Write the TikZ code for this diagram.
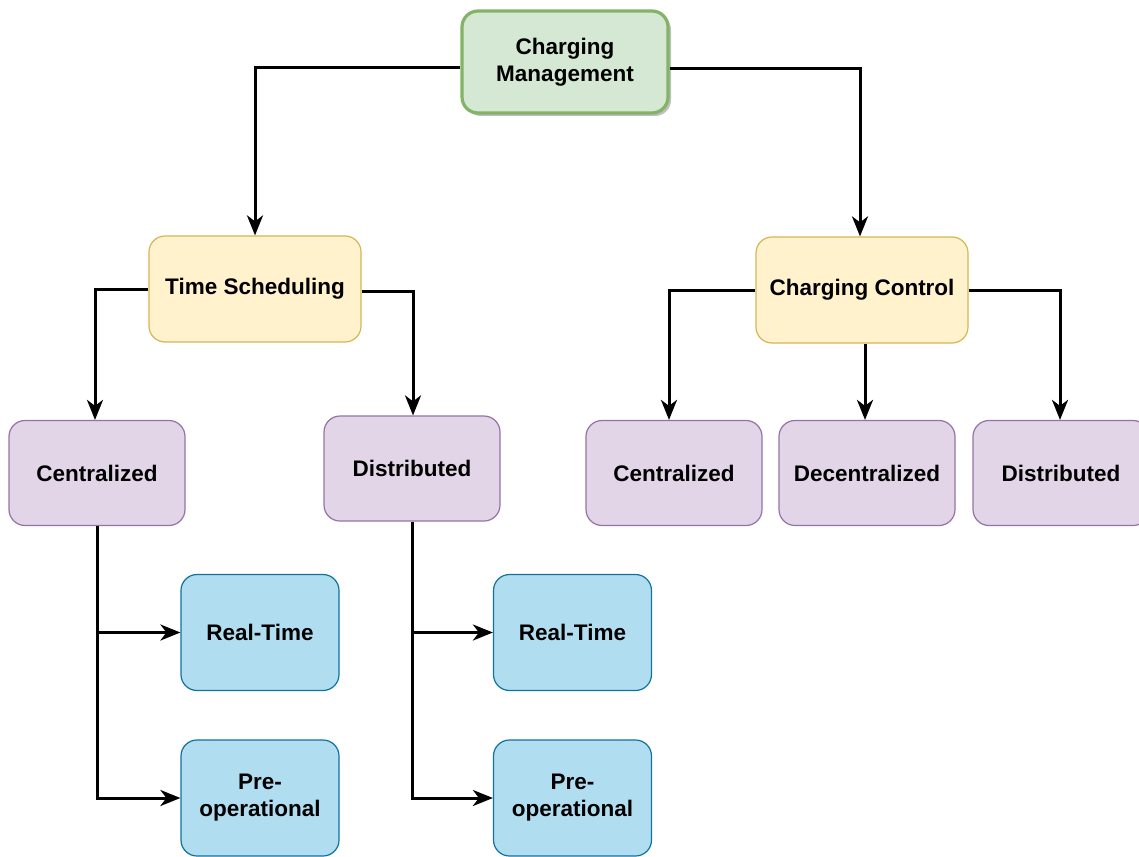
\documentclass[tikz,border=0pt]{standalone}
\usepackage{fontspec}
\setmainfont{Liberation Sans}
\usetikzlibrary{arrows.meta,shadows}
\definecolor{greenfill}{HTML}{D5E8D4}
\definecolor{greenline}{HTML}{82B366}
\definecolor{yellowfill}{HTML}{FFF2CC}
\definecolor{yellowline}{HTML}{D6B656}
\definecolor{purplefill}{HTML}{E1D5E7}
\definecolor{purpleline}{HTML}{9673A6}
\definecolor{bluefill}{HTML}{B1DDF0}
\definecolor{blueline}{HTML}{10739E}
\tikzset{
  box/.style={rectangle, rounded corners=16pt, line width=1.2pt, align=center,
    font=\fontsize{22.5}{27}\selectfont\bfseries, inner sep=0pt},
  rootbox/.style={box, fill=greenfill, draw=greenline, line width=3.2pt,
    minimum width=206pt, minimum height=102pt,
    drop shadow={shadow xshift=3pt, shadow yshift=-3pt, opacity=0.25, fill=black}},
  groupbox/.style={box, fill=yellowfill, draw=yellowline,
    minimum width=212pt, minimum height=106pt},
  kindbox/.style={box, fill=purplefill, draw=purpleline,
    minimum width=176pt, minimum height=105pt},
  modebox/.style={box, fill=bluefill, draw=blueline,
    minimum width=158pt, minimum height=116pt},
  arr/.style={line width=3pt, -{Stealth[length=20pt, width=16pt, inset=6pt]}}
}
\begin{document}
\begin{tikzpicture}[x=1pt, y=-1pt]
\useasboundingbox (0,0) rectangle (1139,856);
\fill[white] (0,0) rectangle (1139,856);

% top level
\node[rootbox] (cm) at (565,62) {Charging\\Management};

% second level
\node[groupbox] (ts) at (255,289) {Time Scheduling};
\node[groupbox] (cc) at (862,290) {Charging Control};

% third level
\node[kindbox] (cl) at (97,473) {Centralized};
\node[kindbox] (dl) at (412,468.5) {Distributed};
\node[kindbox] (cr) at (674,473) {Centralized};
\node[kindbox] (de) at (867,473) {Decentralized};
\node[kindbox] (dr) at (1061,473) {Distributed};

% fourth level
\node[modebox] (rl) at (260,632.5) {Real-Time};
\node[modebox] (pl) at (260,798) {Pre-\\operational};
\node[modebox] (rr) at (572.5,632.5) {Real-Time};
\node[modebox] (pr) at (572.5,798) {Pre-\\operational};

% connectors
\draw[arr] ([yshift=-6pt]cm.west) -| (ts.north);
\draw[arr] ([yshift=-7pt]cm.east) -| ([xshift=-2pt]cc.north);
\draw[arr] (ts.west) -| ([xshift=-2pt]cl.north);
\draw[arr] ([yshift=-2pt]ts.east) -| ([xshift=1pt]dl.north);
\draw[arr] (cc.west) -| ([xshift=-5pt]cr.north);
\draw[arr] ([xshift=3pt]cc.south) -- ([xshift=-2pt]de.north);
\draw[arr] (cc.east) -| ([xshift=-1pt]dr.north);
\draw[arr] (cl.south) |- (pl.west);
\draw[arr] (cl.south |- rl.west) -- (rl.west);
\draw[arr] (dl.south) |- (pr.west);
\draw[arr] (dl.south |- rr.west) -- (rr.west);
\end{tikzpicture}
\end{document}
